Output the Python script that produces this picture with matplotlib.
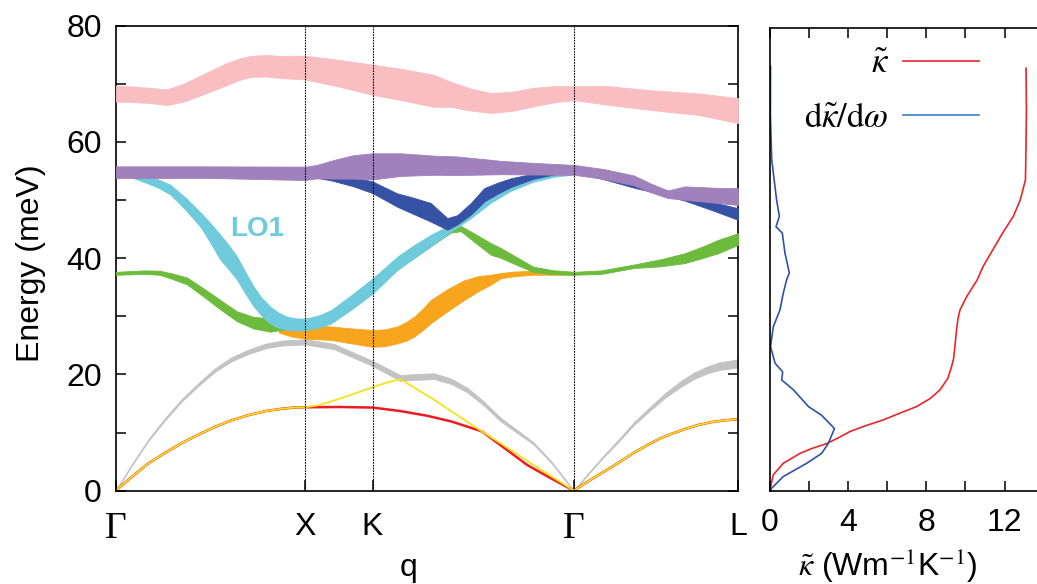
import numpy as np
import matplotlib
matplotlib.use("Agg")
import matplotlib.pyplot as plt
from matplotlib.ticker import MultipleLocator, FixedLocator

plt.rcParams['font.family'] = ['Liberation Sans', 'DejaVu Sans']
plt.rcParams['mathtext.fontset'] = 'stix'

# high-symmetry path (2pi/a units)
q_nodes = [0.0, 1.0, 1.3536, 2.4142, 3.2802]
q_labels = ['Γ', 'X', 'K', 'Γ', 'L']

# acoustic branches (thin lines)
q_ta1 = [0, 0.086, 0.172, 0.26, 0.349, 0.44, 0.525, 0.61, 0.70, 0.79, 0.877, 0.94, 1.0, 1.18, 1.3536,
         1.5, 1.64, 1.77, 1.93, 2.05, 2.17, 2.29, 2.4142, 2.49, 2.56, 2.65, 2.73, 2.8, 2.87, 2.94,
         3.0, 3.07, 3.14, 3.21, 3.2802]
e_ta1 = [0, 2.4, 4.7, 6.5, 8.2, 9.7, 11.0, 12.1, 13.0, 13.7, 14.1, 14.3, 14.35, 14.4, 14.3,
         13.7, 12.9, 11.9, 10.2, 7.3, 4.4, 2.2, 0, 1.6, 3.0, 4.8, 6.5, 7.8, 9.0, 9.9,
         10.6, 11.3, 11.8, 12.1, 12.3]

q_ta2 = [0, 0.086, 0.172, 0.26, 0.349, 0.44, 0.525, 0.61, 0.70, 0.79, 0.877, 0.94, 1.0, 1.07, 1.15,
         1.25, 1.3536, 1.43, 1.5, 1.68, 1.93, 2.05, 2.17, 2.29, 2.4142, 2.49, 2.56, 2.65, 2.73,
         2.8, 2.87, 2.94, 3.0, 3.07, 3.14, 3.21, 3.2802]
e_ta2 = [0, 2.4, 4.7, 6.5, 8.2, 9.7, 11.0, 12.1, 13.0, 13.7, 14.1, 14.3, 14.35, 14.7, 15.5,
         16.6, 17.8, 18.6, 19.2, 15.6, 10.2, 7.7, 5.1, 2.6, 0, 1.6, 3.0, 4.8, 6.5,
         7.8, 9.0, 9.9, 10.6, 11.3, 11.8, 12.1, 12.3]

# fat bands: centre energy and band weight (meV)
q_la = [0, 0.086, 0.172, 0.26, 0.349, 0.44, 0.525, 0.61, 0.70, 0.79, 0.877, 1.0, 1.15, 1.3536,
        1.5, 1.6, 1.678, 1.77, 1.854, 1.94, 2.03, 2.12, 2.2, 2.294, 2.4142, 2.49, 2.56, 2.65,
        2.73, 2.82, 2.9, 2.98, 3.05, 3.12, 3.18, 3.2802]
e_la = [0, 4.5, 8.7, 12.3, 15.6, 18.4, 20.8, 22.6, 23.9, 24.9, 25.4, 25.6, 24.8, 21.9,
        19.4, 19.6, 19.7, 18.8, 17.3, 15.0, 12.2, 10.1, 8.2, 5.0, 0, 2.9, 5.5, 8.6,
        11.5, 14.2, 16.5, 18.4, 19.8, 20.8, 21.4, 21.9]
w_la = [0.2, 0.25, 0.3, 0.4, 0.45, 0.5, 0.6, 0.7, 0.75, 0.8, 0.85, 0.9, 0.9, 0.9,
        1.0, 1.0, 1.0, 0.9, 0.8, 0.7, 0.6, 0.5, 0.4, 0.3, 0.2, 0.25, 0.3, 0.4,
        0.5, 0.65, 0.8, 1.0, 1.1, 1.2, 1.3, 1.4]

q_to2 = [0.86, 0.93, 1.0, 1.134, 1.25, 1.3536, 1.42, 1.484, 1.53, 1.572, 1.62, 1.66, 1.75, 1.836,
         1.91, 1.977, 2.03, 2.1, 2.2, 2.4142]
e_to2 = [27.8, 27.5, 27.3, 27.1, 26.6, 26.2, 26.3, 26.8, 27.4, 28.2, 29.5, 30.8, 32.8, 34.5,
         35.6, 36.3, 37.0, 37.3, 37.5, 37.4]
w_to2 = [1.2, 2.0, 2.3, 2.3, 2.6, 2.9, 2.9, 2.9, 3.2, 3.4, 3.7, 4.0, 3.8, 3.4,
         2.6, 1.7, 0.9, 0.8, 0.7, 0.5]

q_to1 = [0, 0.15, 0.23, 0.288, 0.375, 0.463, 0.551, 0.639, 0.727, 0.815, 0.9, 1.0, 1.134, 1.3536,
         1.484, 1.66, 1.766, 1.819, 1.9, 1.977, 2.03, 2.12, 2.2, 2.3, 2.4142, 2.56, 2.73, 2.87,
         3.0, 3.1, 3.175, 3.2802]
e_to1 = [37.4, 37.6, 37.5, 37.0, 36.1, 34.1, 32.0, 30.0, 28.9, 28.5, 28.4, 28.3, 29.0, 34.4,
         38.2, 42.2, 44.6, 45.1, 43.3, 41.6, 40.9, 39.4, 38.1, 37.6, 37.4, 37.6, 38.6, 39.2,
         40.0, 41.1, 42.0, 43.3]
w_to1 = [0.5, 0.6, 0.7, 0.9, 1.2, 1.4, 1.6, 1.7, 2.0, 2.3, 1.2, 0.4, 0.3, 0.3,
         0.3, 0.3, 0.4, 0.9, 1.5, 2.0, 1.7, 1.3, 0.9, 0.7, 0.5, 0.6, 0.6, 1.2,
         1.7, 2.0, 2.3, 2.0]

q_lo1 = [0, 0.08, 0.15, 0.22, 0.288, 0.37, 0.45, 0.5, 0.551, 0.595, 0.639, 0.683, 0.727, 0.77,
         0.815, 0.86, 0.903, 0.95, 1.0, 1.07, 1.134, 1.25, 1.3536, 1.484, 1.57, 1.66, 1.766,
         1.872, 1.977, 2.08, 2.2, 2.31, 2.4142]
e_lo1 = [54.6, 54.3, 53.6, 52.9, 51.8, 49.3, 46.5, 44.3, 41.9, 40.2, 38.3, 35.8, 33.4, 31.6,
         30.2, 29.3, 28.8, 28.6, 28.6, 29.1, 29.9, 32.6, 35.2, 39.1, 41.1, 43.0, 45.2,
         47.6, 50.4, 52.2, 53.6, 54.3, 54.6]
w_lo1 = [0.4, 0.7, 1.0, 1.4, 1.7, 2.1, 2.5, 3.4, 4.3, 4.2, 4.0, 3.7, 3.4, 3.1,
         2.9, 2.6, 2.3, 2.1, 2.0, 2.1, 2.3, 2.5, 2.6, 2.3, 2.2, 2.0, 1.2,
         1.4, 1.7, 1.3, 0.9, 0.6, 0.4]

q_lo2 = [0, 0.5, 1.0, 1.134, 1.25, 1.3536, 1.484, 1.57, 1.66, 1.748, 1.80, 1.872, 1.942, 2.01,
         2.083, 2.2, 2.31, 2.4142, 2.57, 2.73, 2.87, 3.0, 3.14, 3.2802]
e_lo2 = [54.8, 54.6, 54.4, 54.0, 53.2, 52.2, 50.0, 49.0, 47.9, 45.9, 46.6, 48.5, 50.9, 52.0,
         53.0, 54.1, 54.7, 55.0, 53.9, 52.6, 51.5, 50.4, 49.0, 47.6]
w_lo2 = [0.4, 0.4, 0.5, 1.2, 1.6, 2.0, 2.3, 2.8, 3.2, 2.0, 1.6, 2.0, 2.3, 1.9,
         1.5, 0.9, 0.6, 0.4, 0.6, 0.9, 0.9, 1.0, 1.4, 2.0]

q_lo3 = [0, 0.5, 1.0, 1.062, 1.15, 1.25, 1.3536, 1.502, 1.676, 1.8, 2.03, 2.2, 2.4142, 2.57, 2.73,
         2.82, 2.91, 3.0, 3.175, 3.2802]
e_lo3 = [54.8, 54.8, 54.6, 54.9, 55.3, 55.7, 55.8, 56.1, 56.0, 55.9, 55.6, 55.4, 55.2, 54.5, 53.4,
         52.1, 51.0, 51.2, 50.8, 50.6]
w_lo3 = [2.0, 2.0, 2.3, 2.3, 3.2, 4.0, 4.5, 3.9, 3.3, 3.2, 2.3, 2.0, 1.7, 1.7, 1.7,
         1.5, 1.3, 2.3, 2.6, 2.9]

q_top = [0, 0.09, 0.181, 0.27, 0.36, 0.445, 0.51, 0.58, 0.65, 0.71, 0.79, 0.868, 1.0, 1.18, 1.3536,
         1.52, 1.676, 1.766, 1.87, 1.977, 2.09, 2.2, 2.31, 2.4142, 2.594, 2.82, 3.07, 3.2802]
e_top = [68.3, 68.2, 68.0, 67.7, 68.5, 69.7, 70.6, 71.6, 72.5, 73.0, 73.1, 72.9, 72.8, 71.8, 70.7,
         69.8, 68.8, 68.2, 67.3, 66.7, 67.0, 67.7, 68.2, 68.4, 68.0, 67.2, 66.5, 65.4]
w_top = [2.7, 2.7, 2.6, 2.7, 3.1, 3.4, 3.6, 3.8, 3.7, 3.6, 3.7, 3.8, 4.1, 4.6, 5.2,
         5.4, 5.5, 4.3, 3.8, 3.4, 3.3, 3.2, 2.8, 2.4, 3.2, 3.4, 3.7, 4.3]

# cumulative thermal conductivity and its derivative vs energy
e_kappa = [0, 1.0, 2.8, 4.8, 6.5, 7.3, 8.2, 9.2, 10.3, 11.3, 12.3, 13.4, 14.6, 16.0, 17.5, 19.5,
           21.5, 23.0, 25.0, 28.0, 29.8, 31.3, 33.6, 36.5, 38.8, 41.7, 44.6, 47.5, 50.3, 53.8,
           60.0, 66.0, 73.1]
kappa = [0, 0.05, 0.17, 0.68, 1.53, 2.1, 2.9, 3.5, 4.1, 4.9, 5.8, 6.6, 7.5, 8.2, 8.7, 9.1,
         9.29, 9.4, 9.46, 9.55, 9.62, 9.72, 10.06, 10.6, 10.9, 11.4, 11.9, 12.45, 12.8, 13.07,
         13.1, 13.12, 13.1]

e_dk = [0, 0.5, 2.5, 4.8, 6.5, 8.2, 10.8, 13.1, 14.6, 17.5, 19.2, 20.6, 22.1, 25.0, 28.4, 31.3,
        34.2, 36.5, 37.7, 41.1, 44.6, 45.7, 47.5, 50.3, 57.3, 65.0, 73.4]
dkappa = [0, 0.09, 0.68, 1.88, 2.64, 2.98, 3.3, 2.64, 1.97, 1.2, 0.6, 0.65, 0.26, 0.03, 0.17, 0.51,
          0.68, 0.85, 0.99, 0.77, 0.63, 0.31, 0.48, 0.34, 0.09, 0.02, 0.03]

bands = [
    (q_la, e_la, w_la, '#c3c3c3'),
    (q_to2, e_to2, w_to2, '#f8a51e'),
    (q_to1, e_to1, w_to1, '#6cbb3c'),
    (q_lo1, e_lo1, w_lo1, '#6fcbdc'),
    (q_lo2, e_lo2, w_lo2, '#3552a4'),
    (q_lo3, e_lo3, w_lo3, '#a081bc'),
    (q_top, e_top, w_top, '#f8bec1'),
]

fig = plt.figure(figsize=(10.37, 5.84), dpi=100)
ax1 = fig.add_axes([0.1116, 0.1598, 0.6001, 0.7962])
ax2 = fig.add_axes([0.7425, 0.1592, 0.2639, 0.7923])

# --- dispersion ---
for i, (q, e, w, c) in enumerate(bands):
    q = np.array(q)
    e = np.array(e)
    w = np.array(w)
    ax1.fill_between(q, e - w / 2, e + w / 2, color=c, lw=0.6, ec=c, zorder=2 + i)
    if i == 0:
        ax1.plot(q_ta1, e_ta1, color='#ec1c24', lw=1.8, zorder=2.3)
        ax1.plot(q_ta2, e_ta2, color='#f7e21a', lw=1.3, zorder=2.4)

for qn in q_nodes[1:4]:
    ax1.axvline(qn, color='black', lw=0.8, ls=(0, (1.5, 1)), zorder=20)

ax1.text(0.745, 45.0, 'LO1', color='#6fcbdc', fontsize=20, fontweight='bold',
         ha='center', va='center', zorder=21)

ax1.set_xlim(q_nodes[0], q_nodes[-1])
ax1.set_ylim(0, 80)
ax1.set_xticks(q_nodes)
ax1.set_xticklabels(q_labels)
for lab in ax1.get_xticklabels():
    if lab.get_text() == 'Γ':
        lab.set_fontfamily('Liberation Serif')
        lab.set_fontsize(27)
    else:
        lab.set_fontsize(23)
ax1.yaxis.set_major_locator(MultipleLocator(20))
ax1.yaxis.set_minor_locator(MultipleLocator(10))
ax1.tick_params(axis='y', which='both', direction='in', right=True, length=7, width=1.1,
                labelsize=23, pad=10)
ax1.tick_params(axis='x', direction='in', length=8, width=1.1, pad=15)
ax1.set_ylabel('Energy (meV)', fontsize=23)
ax1.yaxis.set_label_coords(-0.112, 0.49)
ax1.set_xlabel('q', fontsize=23)
ax1.xaxis.set_label_coords(0.47, -0.135)
for s in ax1.spines.values():
    s.set_linewidth(1.2)

# --- thermal conductivity ---
ax2.plot(kappa, e_kappa, color='#e8262b', lw=1.2, label=r'$\tilde{\kappa}$')
ax2.plot(dkappa, e_dk, color='#2f52a6', lw=1.2, label=r'$\mathrm{d}\tilde{\kappa}/\mathrm{d}\omega$')
ax2.set_xlim(0, 14)
ax2.set_ylim(0, 80)
ax2.xaxis.set_major_locator(FixedLocator([0, 4, 8, 12]))
ax2.xaxis.set_minor_locator(FixedLocator([2, 6, 10]))
ax2.tick_params(axis='x', which='both', direction='in', top=True, length=7, width=1.1,
                labelsize=23, pad=12)
ax2.set_yticks([])
ax2.set_xlabel(r'$\tilde{\kappa}$ (Wm$^{-1}$K$^{-1}$)', fontsize=23)
ax2.xaxis.set_label_coords(0.43, -0.12)
for s in ax2.spines.values():
    s.set_linewidth(1.2)

leg = ax2.legend(loc='upper right', bbox_to_anchor=(0.79, 0.975), frameon=False, markerfirst=False,
                 fontsize=25, handlelength=2.2, handletextpad=0.4, labelspacing=0.6,
                 borderpad=0.2, borderaxespad=0)
leg.get_lines()[1].set_color('#3b7dc8')

fig.savefig('out.png', dpi=100)
